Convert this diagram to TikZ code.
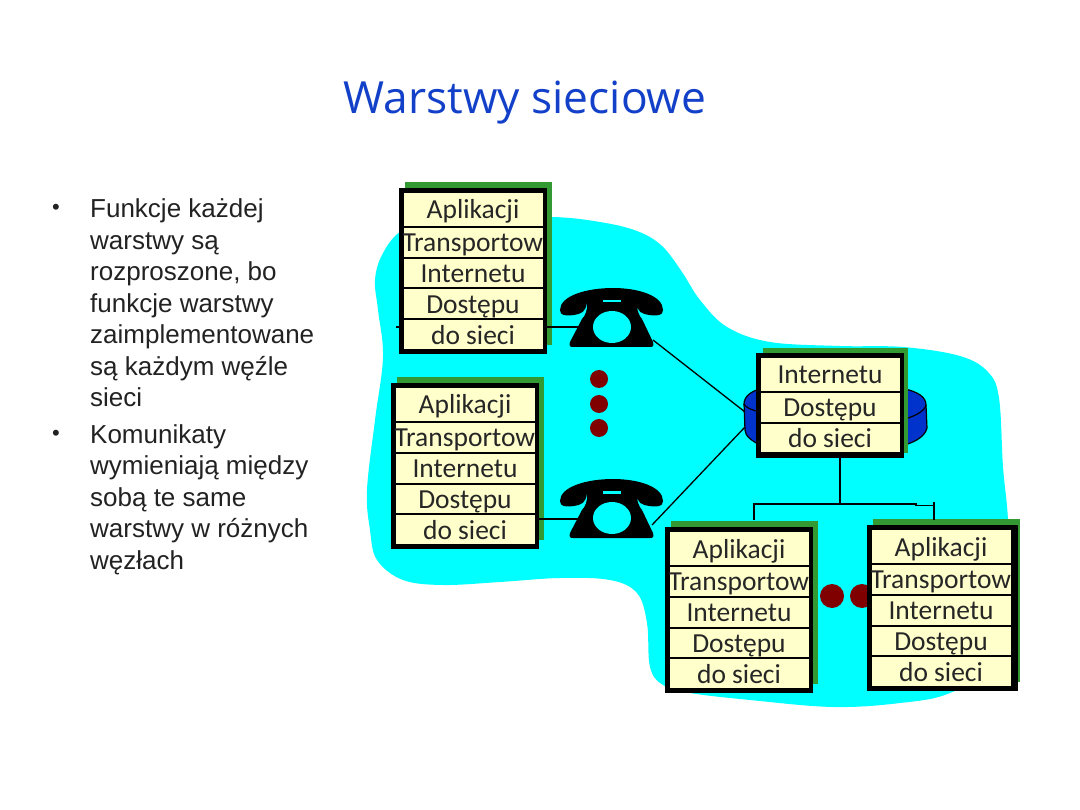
\documentclass[tikz,border=0pt]{standalone}
\usepackage{fontspec}
\setmainfont{Liberation Sans}
\newfontfamily\titlefont{Open Sans}
\newfontfamily\cellfont{Carlito}
\usetikzlibrary{positioning}
\definecolor{cloudcyan}{HTML}{00FFFF}
\definecolor{cellcream}{HTML}{FFFFCC}
\definecolor{shadowgreen}{HTML}{339933}
\definecolor{titleblue}{HTML}{1240C8}
\definecolor{dotred}{HTML}{800000}
\definecolor{drumblue}{HTML}{0033CC}
\definecolor{bodygray}{HTML}{222222}

\begin{document}
\begin{tikzpicture}
      [x=1pt, y=-1pt,
      node distance=0pt,
      title/.style={font=\titlefont\fontsize{44.3}{50}\selectfont, text=titleblue},
      body/.style={font=\fontsize{26}{31.5}\selectfont, text=bodygray, align=left, anchor=north west, inner sep=0pt},
      bulletmark/.style={font=\fontsize{22}{31.5}\selectfont, text=bodygray, inner sep=0pt},
      frame/.style={draw=black, fill=black, line width=4pt, anchor=north west, inner sep=0pt, outer sep=0pt},
      celltext/.style={inner sep=0pt, outer sep=0pt, text height=21pt, text depth=2pt,
        font=\cellfont\fontsize{27.5}{30}\selectfont, text=black!85},
      cell/.style={celltext, draw=black, line width=2pt, fill=cellcream, minimum width=141pt, minimum height=30.75pt},
      topcell/.style={cell, minimum height=35pt},
      reddot/.style={circle, fill=dotred, inner sep=0pt},
      phonebox/.style={minimum width=84pt, minimum height=44pt, inner sep=0pt, outer sep=0pt},
      wire/.style={draw=black, line width=1.3pt},
      telephone/.pic={
        \fill[black] (-51,-8) .. controls (-51,-22) and (-25,-30) .. (2,-30)
          .. controls (28,-30) and (52,-22) .. (52,-8)
          .. controls (52,-2) and (46,-2) .. (38,-3)
          .. controls (31,-4) and (26,-6) .. (25,-16)
          .. controls (26,-8) and (28,-2) .. (31,1) -- (42,24)
          .. controls (43,28) and (42,29) .. (39,29) -- (-38,29)
          .. controls (-41,29) and (-42,28) .. (-41,24) -- (-29,1)
          .. controls (-26,-2) and (-23,-8) .. (-24,-16)
          .. controls (-25,-6) and (-30,-4) .. (-37,-3)
          .. controls (-45,-2) and (-51,-2) .. (-51,-8) -- cycle;
        \fill[cloudcyan] (1,9) ellipse [x radius=19, y radius=16];
        \fill[cloudcyan] (-8,-18) rectangle (10,-15.5);
      }]
      \useasboundingbox (0,0) rectangle (1080,810);
      % cloud
      \fill[cloudcyan] plot[smooth cycle, tension=0.6] coordinates {
        (375,280) (382,255) (400,232) (430,224) (480,219) (552,217) (600,222) (637,231)
        (662,246) (682,272) (700,300) (727,327) (770,342) (840,346) (903,347) (960,356)
        (988,372) (999,398) (1003,467) (1008,520) (1010,600) (1005,660) (950,693) (900,703)
        (833,707) (750,700) (690,693) (663,685) (650,667) (647,623) (637,593) (610,580)
        (560,578) (500,582) (443,585) (403,580) (377,560) (370,530) (367,490) (375,420)
        (383,357) (378,310)};
      % title and text
      \node (title) at (525,103) [title] {Warstwy sieciowe};
      \node (markA) at (56,209) [bulletmark] {•};
      \node (textA) at (90,198.5) [body] {Funkcje każdej\\warstwy są\\rozproszone, bo\\funkcje warstwy\\zaimplementowane\\są każdym węźle\\sieci};
      \node (markB) at (56,435) [bulletmark] {•};
      \node (textB) at (90,424) [body] {Komunikaty\\wymieniają między\\sobą te same\\warstwy w różnych\\węzłach};
      % drum behind the router
      \draw[black, line width=1.2pt, fill=drumblue] (744,404) .. controls (744,396) and (752,391) .. (760,389) -- (905,389)
        .. controls (918,392) and (926,397) .. (926,405) -- (927,428)
        .. controls (925,436) and (917,441) .. (905,445) -- (760,445)
        .. controls (752,441) and (745,436) .. (745,430) -- cycle;
      \draw[black, line width=1.2pt] (744,404) .. controls (746,408) and (752,410) .. (760,412) -- (905,419)
        .. controls (915,416) and (925,411) .. (926,405);
      % dots
      \foreach \name/\x/\y/\d in {dotA/599/379/18, dotB/599/404/18, dotC/599/428/18, dotD/832/596/24, dotE/862/596/24}
        \node (\name) at (\x,\y) [reddot, minimum size=\d pt] {};
      % stacks of five
      \foreach \name/\x/\y/\w in {hostA/399/188/144, hostB/391/383/144, hostC/665/527/144, hostD/867/525/147} {
        \fill[shadowgreen] (\x+6,\y-6) rectangle ++(147,163);
        \node (\name) at (\x+2,\y+2) [frame, minimum width=\w pt, minimum height=162pt] {};
        \node (\name one) at (\x+74,\y+4) [topcell, anchor=north] {Aplikacji};
        \node (\name two) [cell, below=of \name one] {};
        \begin{scope}
          \clip (\name two.north west) rectangle (\name two.south east);
          \node (\name label) at (\name two.west) [celltext, anchor=west] {Transportowa};
        \end{scope}
        \node (\name three) [cell, below=of \name two] {Internetu};
        \node (\name four) [cell, below=of \name three] {Dostępu};
        \node (\name five) [cell, below=of \name four] {do sieci};
      }
      % router
      \fill[shadowgreen] (763,348) rectangle ++(145,105);
      \node (router) at (758,355) [frame, minimum width=144pt, minimum height=101pt] {};
      \node (routerone) at (830,357) [topcell, anchor=north] {Internetu};
      \node (routertwo) [cell, below=of routerone] {Dostępu};
      \node (routerthree) [cell, below=of routertwo] {do sieci};
      % wires
      \node (telA) at (611,318) [phonebox] {};
      \node (telB) at (611,509) [phonebox] {};
      \coordinate (stubA) at (396,327);
      \coordinate (stubC) at (585,327);
      \coordinate (stubD) at (585,519);
      \coordinate (jackB) at (652,525);
      \coordinate (drumA) at (745,412);
      \coordinate (drumB) at (745,427);
      \coordinate (splitA) at (840,504);
      \coordinate (legC) at (754,520);
      \coordinate (legD) at (934,520);
      \draw[wire] (stubA) -- (hostA.west |- stubA);
      \draw[wire] (hostA.east |- stubC) -- (stubC);
      \draw[wire] (hostB.east |- stubD) -- (stubD);
      \draw[wire] (telA.south east) -- (drumA);
      \draw[wire] (jackB) -- (drumB);
      \draw[wire] (router.south -| splitA) -- (splitA);
      \draw[wire] (legC) |- (splitA) -- (916,504) -- (916,505.5) -| (legD);
      \draw[wire] (934,502) -- (934,506);
      % telephones
      \pic at (telA) {telephone};
      \pic at (telB) {telephone};
    \end{tikzpicture}
\end{document}
